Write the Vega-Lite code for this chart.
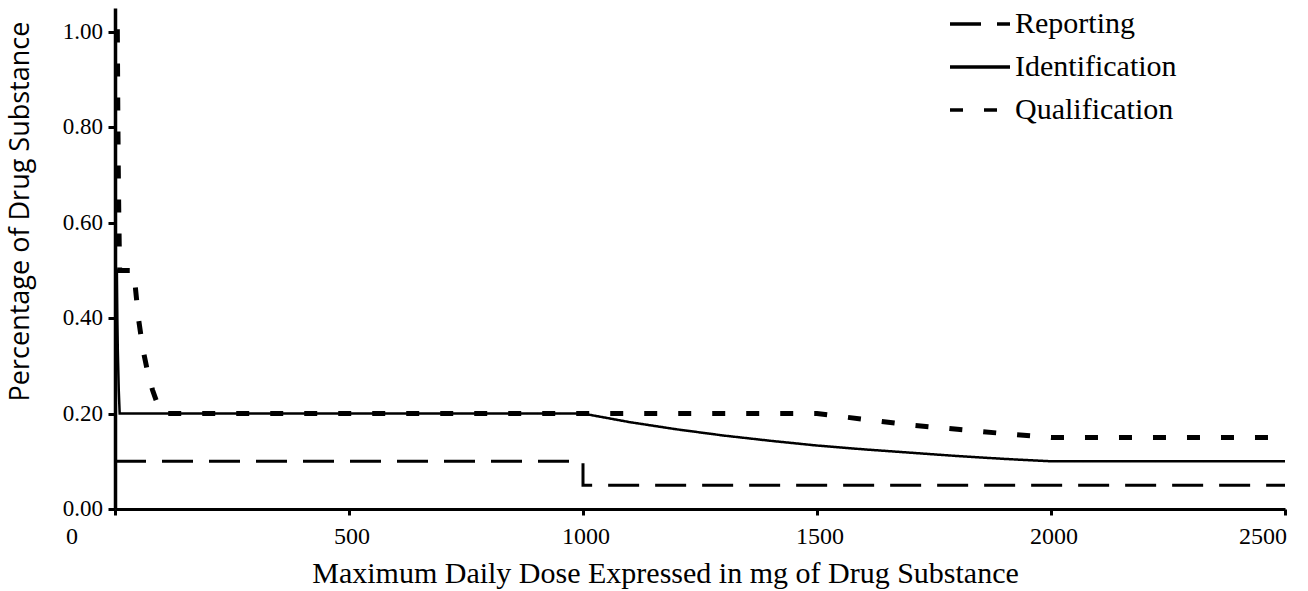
{
  "$schema": "https://vega.github.io/schema/vega-lite/v6.json",
  "autosize": {"type": "none"},
  "padding": {"left": 115, "top": 8, "right": 23, "bottom": 82},
  "width": 1170,
  "height": 501,
  "background": "white",
  "config": {"view": {"stroke": null}},
  "datasets": {
    "lines": [
      {"series": "Reporting", "i": 1, "x": 0, "y": 0.1},
      {"series": "Reporting", "i": 2, "x": 1000, "y": 0.1},
      {"series": "Reporting", "i": 3, "x": 1000, "y": 0.05},
      {"series": "Reporting", "i": 4, "x": 2500, "y": 0.05},
      {"series": "Identification", "i": 1, "x": 0, "y": 1.0},
      {"series": "Identification", "i": 2, "x": 0.5, "y": 1.0},
      {"series": "Identification", "i": 3, "x": 1, "y": 0.5},
      {"series": "Identification", "i": 4, "x": 4, "y": 0.5},
      {"series": "Identification", "i": 5, "x": 5, "y": 0.4},
      {"series": "Identification", "i": 6, "x": 6, "y": 0.333},
      {"series": "Identification", "i": 7, "x": 8, "y": 0.25},
      {"series": "Identification", "i": 8, "x": 10, "y": 0.2},
      {"series": "Identification", "i": 9, "x": 1000, "y": 0.2},
      {"series": "Identification", "i": 10, "x": 1100, "y": 0.182},
      {"series": "Identification", "i": 11, "x": 1200, "y": 0.167},
      {"series": "Identification", "i": 12, "x": 1300, "y": 0.154},
      {"series": "Identification", "i": 13, "x": 1400, "y": 0.143},
      {"series": "Identification", "i": 14, "x": 1500, "y": 0.133},
      {"series": "Identification", "i": 15, "x": 1600, "y": 0.125},
      {"series": "Identification", "i": 16, "x": 1700, "y": 0.118},
      {"series": "Identification", "i": 17, "x": 1800, "y": 0.111},
      {"series": "Identification", "i": 18, "x": 1900, "y": 0.105},
      {"series": "Identification", "i": 19, "x": 2000, "y": 0.1},
      {"series": "Identification", "i": 20, "x": 2500, "y": 0.1},
      {"series": "Qualification", "i": 1, "x": 0, "y": 1.0},
      {"series": "Qualification", "i": 2, "x": 5, "y": 1.0},
      {"series": "Qualification", "i": 3, "x": 6, "y": 0.833},
      {"series": "Qualification", "i": 4, "x": 7, "y": 0.714},
      {"series": "Qualification", "i": 5, "x": 8, "y": 0.625},
      {"series": "Qualification", "i": 6, "x": 9, "y": 0.556},
      {"series": "Qualification", "i": 7, "x": 10, "y": 0.5},
      {"series": "Qualification", "i": 8, "x": 40, "y": 0.5},
      {"series": "Qualification", "i": 9, "x": 50, "y": 0.4},
      {"series": "Qualification", "i": 10, "x": 60, "y": 0.333},
      {"series": "Qualification", "i": 11, "x": 70, "y": 0.286},
      {"series": "Qualification", "i": 12, "x": 80, "y": 0.25},
      {"series": "Qualification", "i": 13, "x": 90, "y": 0.222},
      {"series": "Qualification", "i": 14, "x": 100, "y": 0.2},
      {"series": "Qualification", "i": 15, "x": 1500, "y": 0.2},
      {"series": "Qualification", "i": 16, "x": 1600, "y": 0.188},
      {"series": "Qualification", "i": 17, "x": 1700, "y": 0.176},
      {"series": "Qualification", "i": 18, "x": 1800, "y": 0.167},
      {"series": "Qualification", "i": 19, "x": 1900, "y": 0.158},
      {"series": "Qualification", "i": 20, "x": 2000, "y": 0.15},
      {"series": "Qualification", "i": 21, "x": 2500, "y": 0.15}
    ],
    "xticks": [
      {"v": 0, "label": "0"},
      {"v": 500, "label": "500"},
      {"v": 1000, "label": "1000"},
      {"v": 1500, "label": "1500"},
      {"v": 2000, "label": "2000"},
      {"v": 2500, "label": "2500"}
    ],
    "yticks": [
      {"v": 0, "label": "0.00"},
      {"v": 0.2, "label": "0.20"},
      {"v": 0.4, "label": "0.40"},
      {"v": 0.6, "label": "0.60"},
      {"v": 0.8, "label": "0.80"},
      {"v": 1.0, "label": "1.00"}
    ]
  },
  "layer": [
    {
      "data": {"name": "lines"},
      "transform": [{"filter": "datum.series === 'Reporting'"}],
      "mark": {"type": "line", "color": "black", "strokeWidth": 3, "clip": false},
      "encoding": {
        "x": {
          "field": "x", "type": "quantitative",
          "scale": {"domain": [0, 2500], "nice": false, "zero": false},
          "axis": {
            "values": [0, 500, 1000, 1500, 2000, 2500],
            "labels": false,
            "grid": false,
            "domainColor": "black", "domainWidth": 3,
            "tickColor": "black", "tickWidth": 3, "tickSize": 6,
            "title": "Maximum Daily Dose Expressed in mg of Drug Substance",
            "titleFont": "Liberation Serif", "titleFontSize": 30, "titleFontWeight": "normal",
            "titleColor": "black", "titleX": 550, "titleY": 73, "titleAnchor": "middle", "titleAlign": "center", "titleBaseline": "alphabetic"
          }
        },
        "y": {
          "field": "y", "type": "quantitative",
          "scale": {"domain": [0, 1.05], "nice": false},
          "axis": {
            "values": [0, 0.2, 0.4, 0.6, 0.8, 1.0],
            "labels": false,
            "grid": false,
            "domainColor": "black", "domainWidth": 3.5,
            "tickColor": "black", "tickWidth": 3, "tickSize": 7,
            "title": "Percentage of Drug Substance",
            "titleFont": "Open Sans", "titleFontSize": 27, "titleFontWeight": "normal",
            "titleColor": "black", "titleAngle": -90, "titleX": -95, "titleY": 203, "titleAlign": "center", "titleBaseline": "middle"
          }
        },
        "order": {"field": "i", "type": "quantitative"},
        "strokeDash": {
          "field": "series", "type": "nominal",
          "scale": {"domain": ["Reporting", "Identification", "Qualification"], "range": [[31, 16], [1, 0], [13, 21]]},
          "legend": {
            "title": null, "orient": "none", "legendX": 848, "legendY": -1,
            "symbolType": "M-2,0H2", "symbolSize": 900, "symbolStrokeColor": "black", "symbolStrokeWidth": 3.5,
            "labelFont": "Liberation Serif", "labelFontSize": 30, "labelColor": "black", "labelLimit": 400,
            "labelOffset": 18, "rowPadding": 11
          }
        }
      }
    },
    {
      "data": {"name": "lines"},
      "transform": [{"filter": "datum.series === 'Identification'"}],
      "mark": {"type": "line", "color": "black", "strokeWidth": 2.5, "clip": false},
      "encoding": {
        "x": {"field": "x", "type": "quantitative"},
        "y": {"field": "y", "type": "quantitative"},
        "order": {"field": "i", "type": "quantitative"},
        "strokeDash": {"field": "series", "type": "nominal"}
      }
    },
    {
      "data": {"name": "lines"},
      "transform": [{"filter": "datum.series === 'Qualification'"}],
      "mark": {"type": "line", "color": "black", "strokeWidth": 5, "clip": false},
      "encoding": {
        "x": {"field": "x", "type": "quantitative"},
        "y": {"field": "y", "type": "quantitative"},
        "order": {"field": "i", "type": "quantitative"},
        "strokeDash": {"field": "series", "type": "nominal"}
      }
    },
    {
      "data": {"name": "xticks"},
      "transform": [{"filter": "datum.v > 0 && datum.v < 2500"}],
      "mark": {"type": "text", "font": "Liberation Serif", "fontSize": 24, "color": "black", "baseline": "middle", "align": "center", "dy": 28, "dx": 3},
      "encoding": {
        "x": {"field": "v", "type": "quantitative"},
        "y": {"datum": 0, "type": "quantitative"},
        "text": {"field": "label"}
      }
    },
    {
      "data": {"name": "xticks"},
      "transform": [{"filter": "datum.v === 2500"}],
      "mark": {"type": "text", "font": "Liberation Serif", "fontSize": 24, "color": "black", "baseline": "middle", "align": "right", "dy": 28, "dx": 2},
      "encoding": {
        "x": {"field": "v", "type": "quantitative"},
        "y": {"datum": 0, "type": "quantitative"},
        "text": {"field": "label"}
      }
    },
    {
      "data": {"name": "xticks"},
      "transform": [{"filter": "datum.v === 0"}],
      "mark": {"type": "text", "font": "Liberation Serif", "fontSize": 24, "color": "black", "baseline": "middle", "align": "center", "dy": 28, "dx": -43},
      "encoding": {
        "x": {"field": "v", "type": "quantitative"},
        "y": {"datum": 0, "type": "quantitative"},
        "text": {"field": "label"}
      }
    },
    {
      "data": {"name": "yticks"},
      "mark": {"type": "text", "font": "Liberation Serif", "fontSize": 23, "color": "black", "baseline": "middle", "align": "right", "dx": -12},
      "encoding": {
        "x": {"datum": 0, "type": "quantitative"},
        "y": {"field": "v", "type": "quantitative"},
        "text": {"field": "label"}
      }
    }
  ]
}
